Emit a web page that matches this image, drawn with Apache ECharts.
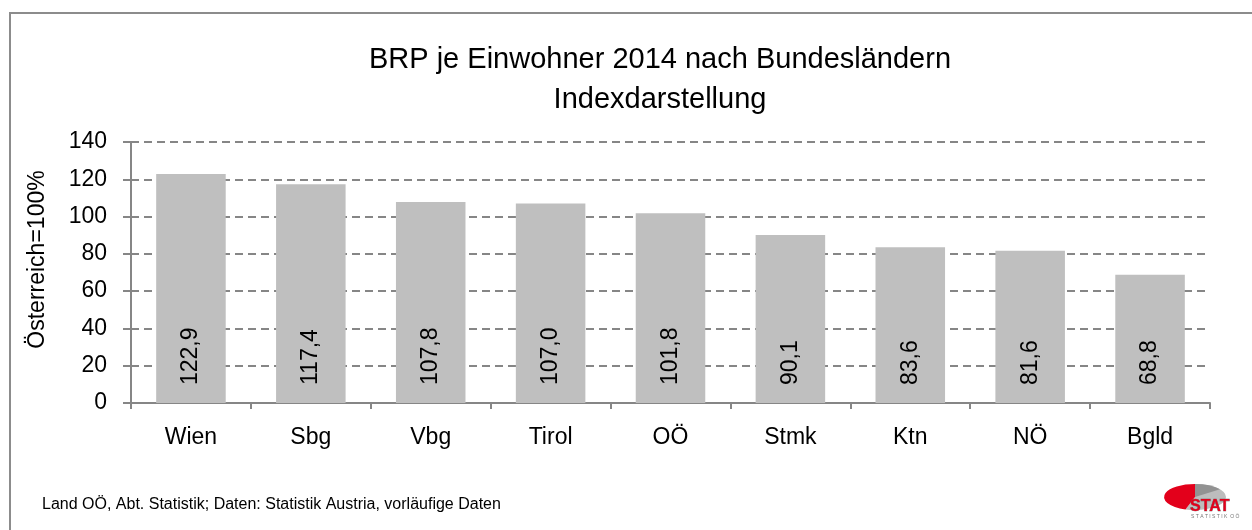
<!DOCTYPE html>
<html>
<head>
<meta charset="utf-8">
<script src="https://cdn.jsdelivr.net/npm/echarts@6/dist/echarts.min.js"></script>
<style>
  html, body { margin: 0; padding: 0; background: #fff; }
  #chart { width: 1252px; height: 530px; }
</style>
</head>
<body>
<div id="chart"></div>
<script>
// Bundesländer und Index (Österreich = 100)
var laender = ['Wien', 'Sbg', 'Vbg', 'Tirol', 'OÖ', 'Stmk', 'Ktn', 'NÖ', 'Bgld'];
var indexWerte = [122.9, 117.4, 107.8, 107.0, 101.8, 90.1, 83.6, 81.6, 68.8];
var yTicks = [0, 20, 40, 60, 80, 100, 120, 140];

var fontMain = '"Liberation Sans", Arial, sans-serif';

var myChart = echarts.init(document.getElementById('chart'));

myChart.setOption({
  backgroundColor: '#fff',
  animation: false,
  grid: { left: 131, right: 42, top: 142, bottom: 127, containLabel: false },
  xAxis: {
    type: 'category',
    data: laender,
    axisLine: { lineStyle: { color: '#868686', width: 2 } },
    axisTick: { show: true, length: 6, alignWithLabel: false, lineStyle: { color: '#868686', width: 2 } },
    axisLabel: { color: '#000', fontSize: 23, margin: 23, fontFamily: fontMain }
  },
  yAxis: {
    type: 'value',
    min: yTicks[0],
    max: yTicks[yTicks.length - 1],
    interval: 20,
    name: 'Österreich=100%',
    nameLocation: 'middle',
    nameGap: 82,
    nameRotate: 90,
    nameTextStyle: { color: '#000', fontSize: 23, fontFamily: fontMain, padding: [0, 0, 0, 26] },
    axisLine: { show: true, lineStyle: { color: '#868686', width: 2 } },
    axisTick: { show: true, length: 8, lineStyle: { color: '#868686', width: 2 } },
    axisLabel: { color: '#000', fontSize: 23, margin: 24, fontFamily: fontMain },
    splitLine: { show: true, lineStyle: { color: '#868686', width: 2, type: [8, 5] } }
  },
  series: [{
    type: 'bar',
    data: indexWerte,
    barCategoryGap: '42%',
    itemStyle: { color: '#bfbfbf' },
    label: {
      show: true,
      position: 'insideBottom',
      rotate: 90,
      align: 'left',
      verticalAlign: 'middle',
      distance: 18,
      color: '#000',
      fontSize: 23,
      fontFamily: fontMain,
      formatter: function (p) { return p.value.toFixed(1).replace('.', ','); }
    }
  }],
  graphic: [
    {
      type: 'rect',
      shape: { x: 10, y: 13, width: 1400, height: 700 },
      style: { fill: 'none', stroke: '#8c8c8c', lineWidth: 2 },
      silent: true
    },
    {
      type: 'text',
      x: 660, y: 40,
      style: {
        text: 'BRP je Einwohner 2014 nach Bundesländern\nIndexdarstellung',
        align: 'center', verticalAlign: 'top',
        fill: '#000', fontSize: 29, lineHeight: 40, fontFamily: fontMain
      }
    },
    {
      type: 'text',
      x: 42, y: 497,
      style: {
        text: 'Land OÖ, Abt. Statistik; Daten: Statistik Austria, vorläufige Daten',
        fill: '#000', fontSize: 16, fontFamily: fontMain
      }
    },
    {
      // Logo STAT
      type: 'group',
      x: 1163, y: 484,
      children: [
        {
          type: 'group', x: 32, y: 13, scaleY: 0.42,
          children: [
            { type: 'sector', shape: { cx: 0, cy: 0, r: 31, startAngle: -Math.PI / 2, endAngle: Math.PI * 0.6 }, style: { fill: '#bdbdbd' } },
            { type: 'sector', shape: { cx: 0, cy: 0, r: 31, startAngle: -Math.PI * 0.5, endAngle: -Math.PI * 0.2 }, style: { fill: '#929292' } },
            { type: 'sector', shape: { cx: 0, cy: 0, r: 31, startAngle: Math.PI * 0.6, endAngle: Math.PI * 1.5 }, style: { fill: '#e3001b' } }
          ]
        },
        {
          type: 'text', x: 27, y: 15,
          style: { text: 'STAT', fill: '#e3001b', stroke: '#666', lineWidth: 0.6, fontSize: 16, fontWeight: 'bold', fontFamily: fontMain, verticalAlign: 'top' }
        },
        {
          type: 'text', x: 28, y: 30,
          style: { text: 'S T A T I S T I K  O Ö', fill: '#777', fontSize: 5, fontFamily: fontMain, verticalAlign: 'top' }
        }
      ]
    }
  ]
});
</script>
</body>
</html>
